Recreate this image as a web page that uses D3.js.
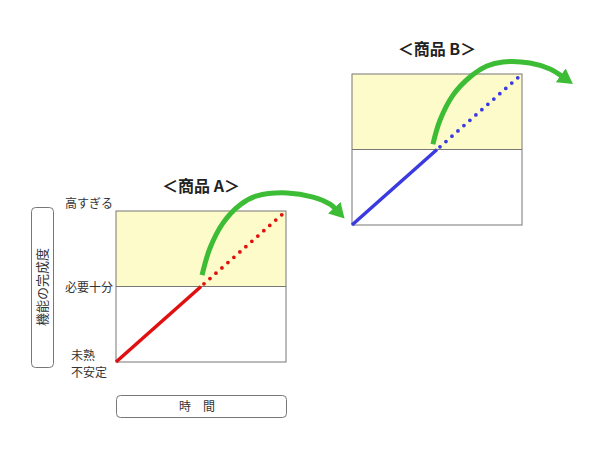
<!DOCTYPE html>
<html>
<head>
<meta charset="utf-8">
<script src="https://cdn.jsdelivr.net/npm/d3@7"></script>
<style>
body { margin: 0; background: #fff; }
text { font-family: "Noto Sans CJK JP", "Noto Sans", sans-serif; fill: #333; }
</style>
</head>
<body>
<div id="chart"></div>
<script>
// values
var products = ["＜商品 A＞", "＜商品 B＞"];
var levelValues = [0, 1, 2];
var levelLabels = [["未熟", "不安定"], ["必要十分"], ["高すぎる"]];
var yTitle = "機能の完成度";
var xTitle = "時　間";

// growth line: solid up to "必要十分", dotted beyond
var growthTime = [0, 0.5, 1];
var growthLevel = [0, 1, 2];

// green leap arrows (time, level) in each panel's units
var leapTimeA = [0.506, 0.553, 0.629, 0.729, 0.829, 1.006, 1.159, 1.259, 1.29];
var leapLevelA = [1.15, 1.51, 1.84, 2.08, 2.20, 2.24, 2.185, 2.09, 2.03];
var leapTimeB = [0.476, 0.518, 0.594, 0.694, 0.794, 0.888, 1.047, 1.165, 1.235];
var leapLevelB = [1.07, 1.39, 1.72, 1.96, 2.106, 2.16, 2.146, 2.066, 1.97];

var lineColors = ["#e01010", "#3a3ae0"];

var width = 600, height = 450;
var svg = d3.select("#chart").append("svg")
	.attr("width", width)
	.attr("height", height);

svg.append("defs").append("marker")
	.attr("id", "head")
	.attr("viewBox", "0 0 10 10")
	.attr("refX", 1)
	.attr("refY", 5)
	.attr("markerUnits", "userSpaceOnUse")
	.attr("markerWidth", 15)
	.attr("markerHeight", 17)
	.attr("preserveAspectRatio", "none")
	.attr("orient", "auto")
	.append("path")
	.attr("d", "M0,0L10,5L0,10Z")
	.attr("fill", "#3dbd35");

// one set of scales per panel
var panels = [
	{ x: d3.scaleLinear().domain([0, 1]).range([116, 286]),
	  y: d3.scaleLinear().domain([0, 2]).range([362, 211]),
	  leap: d3.zip(leapTimeA, leapLevelA) },
	{ x: d3.scaleLinear().domain([0, 1]).range([352, 522]),
	  y: d3.scaleLinear().domain([0, 2]).range([225, 74]),
	  leap: d3.zip(leapTimeB, leapLevelB) }
];

var points = d3.zip(growthTime, growthLevel);

panels.forEach(function(p, i) {
	var g = svg.append("g");
	var x = p.x, y = p.y;

	// yellow "too high" band
	g.append("rect")
		.attr("x", x(0)).attr("y", y(2))
		.attr("width", x(1) - x(0)).attr("height", y(1) - y(2))
		.attr("fill", "#fdfbc9");

	g.append("rect")
		.attr("x", x(0)).attr("y", y(2))
		.attr("width", x(1) - x(0)).attr("height", y(0) - y(2))
		.attr("fill", "none")
		.attr("stroke", "#777")
		.attr("stroke-width", 1);

	g.append("line")
		.attr("x1", x(0)).attr("x2", x(1))
		.attr("y1", y(1)).attr("y2", y(1))
		.attr("stroke", "#777");

	var line = d3.line()
		.x(function(d) { return x(d[0]); })
		.y(function(d) { return y(d[1]); });

	g.append("path")
		.attr("d", line(points.slice(0, 2)))
		.attr("fill", "none")
		.attr("stroke", lineColors[i])
		.attr("stroke-width", 3.5);

	g.append("path")
		.attr("d", line(points.slice(1)))
		.attr("fill", "none")
		.attr("stroke", lineColors[i])
		.attr("stroke-width", 3.8)
		.attr("stroke-linecap", "round")
		.attr("stroke-dasharray", "0 8")
		.attr("stroke-dashoffset", -4);

	g.append("path")
		.attr("d", line.curve(d3.curveCatmullRom)(p.leap))
		.attr("fill", "none")
		.attr("stroke", "#3dbd35")
		.attr("stroke-width", 5)
		.attr("marker-end", "url(#head)");

	g.append("text")
		.attr("x", (x(0) + x(1)) / 2)
		.attr("y", y(2) - 19)
		.attr("text-anchor", "middle")
		.style("font-size", "16px")
		.style("font-weight", "bold")
		.style("fill", "#222")
		.text(products[i]);
});

// level labels on panel A
var pa = panels[0];
levelValues.forEach(function(v, k) {
	var lab = levelLabels[k];
	if (lab.length == 1) {
		svg.append("text")
			.attr("x", pa.x(0) - 3)
			.attr("y", pa.y(v) + (v == 2 ? -3 : 5))
			.attr("text-anchor", "end")
			.style("font-size", "12px")
			.text(lab[0]);
	} else {
		svg.append("text")
			.attr("x", 71)
			.attr("y", pa.y(v) - 2)
			.style("font-size", "12px")
			.text(lab[0]);
		svg.append("text")
			.attr("x", 71)
			.attr("y", pa.y(v) + 15)
			.style("font-size", "12px")
			.text(lab[1]);
	}
});

// axis title boxes
svg.append("rect")
	.attr("x", 31.5).attr("y", 207.5)
	.attr("width", 22).attr("height", 160)
	.attr("rx", 4)
	.attr("fill", "#fff").attr("stroke", "#777");

svg.append("text")
	.attr("transform", "translate(47," + ((207 + 367) / 2) + ") rotate(-90)")
	.attr("text-anchor", "middle")
	.style("font-size", "13px")
	.text(yTitle);

svg.append("rect")
	.attr("x", pa.x(0) + 0.5).attr("y", 395.5)
	.attr("width", pa.x(1) - pa.x(0)).attr("height", 22)
	.attr("rx", 4)
	.attr("fill", "#fff").attr("stroke", "#777");

svg.append("text")
	.attr("x", (pa.x(0) + pa.x(1)) / 2 - 4)
	.attr("y", 411)
	.attr("text-anchor", "middle")
	.style("font-size", "12px")
	.text(xTitle);
</script>
</body>
</html>
